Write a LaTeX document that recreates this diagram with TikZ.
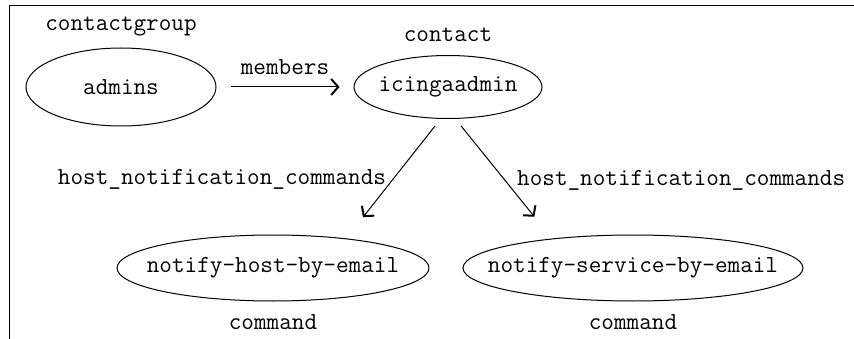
\documentclass[tikz,border=0pt]{standalone}
\usetikzlibrary{arrows.meta, positioning, shapes.geometric}

\begin{document}
\begin{tikzpicture}[x=1pt, y=-1pt,
    font=\ttfamily\fontsize{24.5}{28}\selectfont,
    obj/.style={ellipse, draw, line width=1pt, inner sep=0pt},
    tag/.style={inner sep=0pt},
    rel/.style={line width=1pt, -{Straight Barb[length=7pt, width=16pt, line width=2pt]}}]
    \useasboundingbox (0,0) rectangle (854,339);
    \draw[line width=1pt] (9,339) -- (9,6) -- (854,6);
    % objects
    \node[obj, minimum width=190pt, minimum height=78pt, label=center:admins] (admins) at (121,87) {};
    \node[obj, minimum width=188pt, minimum height=63pt, label=center:icingaadmin] (icinga) at (448,87) {};
    \node[obj, minimum width=312pt, minimum height=66pt, label=center:notify-host-by-email] (hostcmd) at (273,268) {};
    \node[obj, minimum width=340pt, minimum height=66pt, label=center:notify-service-by-email] (svccmd) at (633,268) {};
    % object types
    \node[tag, above=11pt of admins] (grouptype) {contactgroup};
    \node[tag, above=13pt of icinga] (contacttype) {contact};
    \node[tag, below=13pt of hostcmd] (hosttype) {command};
    \node[tag, below=13pt of svccmd] (svctype) {command};
    % relations
    \draw[rel, shorten <=14pt, shorten >=14pt] (admins) -- (icinga)
        node[tag, midway, above=12pt] {members};
    \draw[rel, shorten <=9pt, shorten >=27pt] (icinga.257) -- (hostcmd.22)
        node[tag, pos=0.51, left=6pt] {host\_notification\_commands};
    \draw[rel, shorten <=9pt, shorten >=28pt] (icinga.283) -- (svccmd.160)
        node[tag, pos=0.51, right=12pt] {host\_notification\_commands};
\end{tikzpicture}
\end{document}
